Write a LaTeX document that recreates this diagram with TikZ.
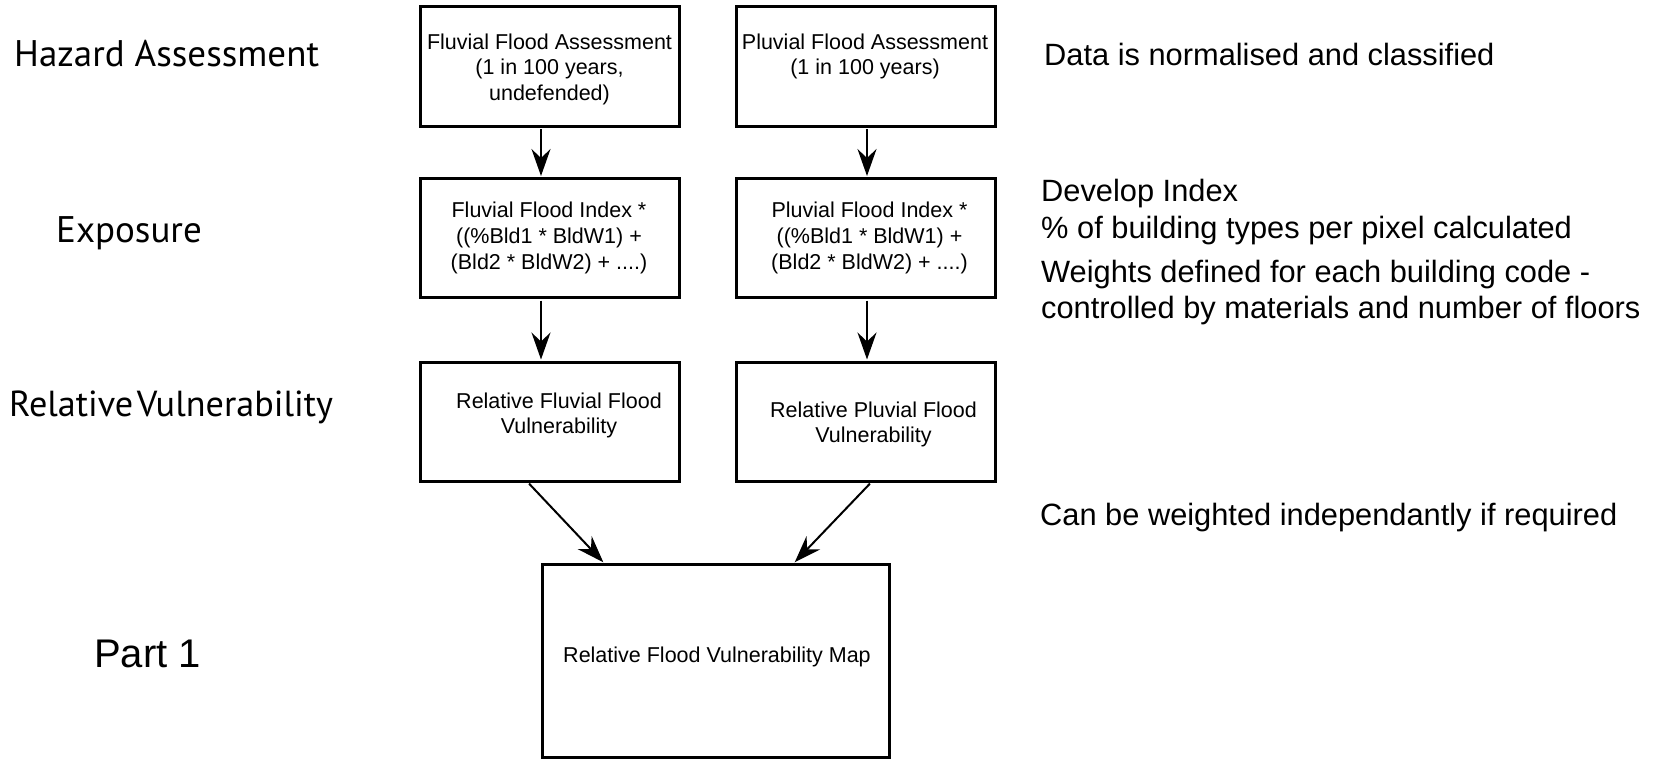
\documentclass[tikz,border=0pt]{standalone}
\usepackage{fontspec}
\setmainfont{Liberation Sans}
\newfontfamily\stagefont{PT Sans}
\usetikzlibrary{arrows.meta}
\begin{document}
\begin{tikzpicture}[x=1pt,y=-1pt,
  box/.style={draw, line width=3pt, inner sep=0pt},
  boxtext/.style={align=center, inner sep=0pt, anchor=base,
    font=\fontsize{21.5pt}{25.6pt}\selectfont},
  note/.style={anchor=base west, inner sep=0pt,
    font=\fontsize{30.8pt}{36pt}\selectfont},
  stage/.style={anchor=base west, inner sep=0pt,
    font=\stagefont\fontsize{37pt}{44pt}\selectfont},
  flow/.style={line width=2pt, shorten >=1pt, shorten <=1.5pt,
    -{Stealth[length=27pt, width=19pt, inset=9pt]}}]
\fill[white] (0,0) rectangle (1656,759);
\useasboundingbox (0,0) rectangle (1656,759);

% process boxes
\node[box, minimum width=259pt, minimum height=120pt] (b1) at (549.5,66.5) {};
\node[box, minimum width=259pt, minimum height=120pt] (b2) at (866,66.5) {};
\node[box, minimum width=259pt, minimum height=119pt] (b3) at (549.5,238) {};
\node[box, minimum width=259pt, minimum height=119pt] (b4) at (866,238) {};
\node[box, minimum width=259pt, minimum height=119pt] (b5) at (549.5,421.5) {};
\node[box, minimum width=259pt, minimum height=119pt] (b6) at (866,421.5) {};
\node[box, minimum width=347pt, minimum height=193pt] (b7) at (715.5,661) {};

% box captions (anchored at the baseline of the last line)
\node[boxtext] (t1) at (549.5,100.5) {Fluvial Flood Assessment\\(1 in 100 years,\\undefended)};
\node[boxtext] (t2) at (865,74.9) {Pluvial Flood Assessment\\(1 in 100 years)};
\node[boxtext] (t3) at (549,269.2) {Fluvial Flood Index *\\((\%Bld1 * BldW1) +\\(Bld2 * BldW2) + ....)};
\node[boxtext] (t4) at (869.5,269.2) {Pluvial Flood Index *\\((\%Bld1 * BldW1) +\\(Bld2 * BldW2) + ....)};
\node[boxtext] (t5) at (559,433.6) {Relative Fluvial Flood\\Vulnerability};
\node[boxtext] (t6) at (873.5,442.6) {Relative Pluvial Flood\\Vulnerability};
\node[boxtext] (t7) at (717,662) {Relative Flood Vulnerability Map};

% connector columns
\coordinate (xl) at (541,0);
\coordinate (xr) at (867,0);
\coordinate (dl1) at (528,0);
\coordinate (dl2) at (604,0);
\coordinate (dr1) at (871,0);
\coordinate (dr2) at (794,0);

\draw[flow] (b1.south -| xl) -- (b3.north -| xl);
\draw[flow] (b2.south -| xr) -- (b4.north -| xr);
\draw[flow] (b3.south -| xl) -- (b5.north -| xl);
\draw[flow] (b4.south -| xr) -- (b6.north -| xr);
\draw[flow] (b5.south -| dl1) -- (b7.north -| dl2);
\draw[flow] (b6.south -| dr1) -- (b7.north -| dr2);

% stage labels
\node[stage] (s1) at (14,66.7) {Hazard Assessment};
\node[stage] (s2) at (56,242.7) {Exposure};
\node[stage, font=\stagefont\fontsize{36.2pt}{44pt}\selectfont] (s3) at (9,416.7) {Relative\kern0.1em Vulnerability};
\node[anchor=base west, inner sep=0pt, font=\fontsize{40pt}{48pt}\selectfont] (s4) at (94,667) {Part 1};

% notes
\node[note] (n1) at (1044,65.5) {Data is normalised and classified};
\node[note] (n2) at (1041,202) {Develop Index};
\node[note] (n3) at (1041,239) {\% of building types per pixel calculated};
\node[note] (n4) at (1041,283) {Weights defined for each building code -};
\node[note] (n5) at (1041,318) {controlled by materials and number of floors};
\node[note] (n6) at (1040,525) {Can be weighted independantly if required};
\end{tikzpicture}
\end{document}
